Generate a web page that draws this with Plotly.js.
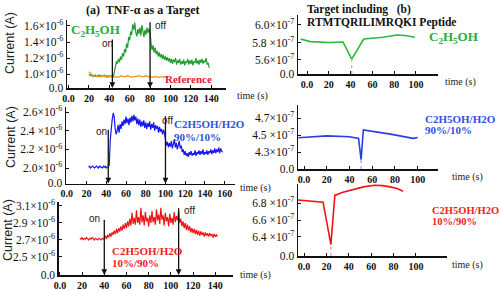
<!DOCTYPE html>
<html><head><meta charset="utf-8">
<script src="https://cdn.plot.ly/plotly-3.0.1.min.js"></script>
<style>html,body{margin:0;padding:0;background:#fff}#chart{width:500px;height:291px}</style>
</head><body><div id="chart"></div>
<script>
// ---------- DATA ----------
// (a) TNF-alpha as a target, current in units of 1e-6 A, sampled every 1 s
const a1EthanolStart = 20;
const a1Ethanol = [1.00,0.99,0.98,0.99,0.97,0.98,0.99,0.98,0.97,0.98,0.99,0.98,0.97,0.98,0.98,0.99,0.97,0.98,0.98,0.97,0.98,0.97,0.98,0.97,0.97,
  1.03,1.11,1.16,1.13,1.19,1.15,1.22,1.18,1.26,1.22,1.31,1.27,1.38,1.33,1.46,1.42,1.53,1.49,1.62,1.55,1.64,1.52,1.47,1.56,1.50,1.58,1.48,1.61,1.53,1.46,1.55,1.49,1.58,1.51,1.57,
  1.52,1.38,1.30,1.36,1.27,1.33,1.25,1.29,1.22,1.27,1.21,1.25,1.19,1.24,1.18,1.22,1.17,1.21,1.16,1.20,1.14,1.19,1.13,1.18,1.15,1.20,1.12,1.17,1.14,1.19,1.12,1.16,1.13,1.18,1.11,1.16,1.14,1.19,1.12,1.17,1.13,1.18,1.11,1.16,1.14,1.20,1.13,1.17,1.12,1.18,1.14,1.19,1.13,1.17,1.15,1.20,1.12,1.14,1.08];
// reference, sampled every 2 s
const a1ReferenceStart = 20;
const a1Reference = [1.03,1.00,0.98,0.97,0.98,0.97,0.97,0.98,0.97,0.96,0.97,0.97,0.96,0.97,0.96,0.97,0.98,0.97,0.97,0.98,0.97,0.96,0.97,0.97,0.98,0.98,0.97,0.97,0.98,0.97,0.97,0.96,0.97,0.97,0.96,0.97,0.97,0.96,0.97,0.96];
const a1Switch = [43, 80];   // on, off (s)

// C2H5OH/H2O 90%/10%, 1e-6 A, every 1 s
const a2Start = 22;
const a2Current = [2.01,2.02,2.00,2.01,2.02,2.01,2.00,2.01,2.02,2.01,2.00,2.02,2.01,2.01,2.00,2.02,2.01,2.02,2.00,2.01,2.02,
  2.03,2.30,2.46,2.52,2.59,2.55,2.42,2.36,2.40,2.46,2.38,2.47,2.42,2.50,2.45,2.52,2.47,2.55,2.48,2.53,2.46,2.54,2.49,2.56,2.50,2.57,2.51,2.55,2.47,2.53,2.46,2.52,2.44,2.50,2.45,2.51,2.43,2.49,2.42,2.48,2.44,2.50,2.41,2.47,2.43,2.49,2.40,2.46,2.42,2.45,2.38,2.44,2.39,2.42,2.36,2.41,2.37,
  2.30,2.24,2.28,2.22,2.27,2.23,2.29,2.21,2.26,2.31,2.22,2.27,2.20,2.25,2.29,2.21,2.24,2.17,2.20,2.14,2.18,2.13,2.16,2.12,2.17,2.14,2.18,2.13,2.16,2.14,2.19,2.13,2.17,2.15,2.19,2.14,2.18,2.15,2.20,2.14,2.17,2.15,2.19,2.14,2.18,2.16,2.20,2.15,2.19,2.16,2.21,2.16,2.20,2.17,2.22,2.16,2.21,2.18,2.17];
const a2Switch = [42, 100];

// C2H5OH/H2O 10%/90%, 1e-6 A, every 1 s
const a3Start = 18;
const a3Current = [2.72,2.71,2.73,2.70,2.72,2.71,2.73,2.72,2.70,2.72,2.71,2.73,2.71,2.70,2.72,2.71,2.70,2.72,2.71,2.70,2.72,2.71,
  2.72,2.75,2.71,2.76,2.73,2.78,2.74,2.79,2.76,2.81,2.77,2.83,2.78,2.84,2.80,2.86,2.81,2.88,2.83,2.90,2.84,2.92,2.86,2.95,2.87,3.02,2.89,2.96,2.88,3.05,2.90,2.97,2.88,3.08,2.91,2.99,2.87,3.03,2.92,2.96,2.86,2.99,2.90,3.04,2.91,2.97,2.88,3.06,2.93,3.00,2.89,3.08,2.94,2.99,2.87,3.02,2.92,2.97,2.86,3.01,2.90,2.96,2.88,3.03,2.91,2.98,2.93,3.04,
  2.90,2.95,2.86,2.92,2.84,2.90,2.82,2.88,2.81,2.86,2.79,2.84,2.78,2.83,2.77,2.82,2.76,2.81,2.75,2.80,2.76,2.79,2.74,2.79,2.75,2.78,2.74,2.78,2.75,2.77,2.73,2.77,2.74,2.76,2.74];
const a3Switch = [40, 107];

// (b) target including RTMTQRILIMRQKI peptide, current in 1e-7 A
const b1Time = [-6, 3, 20, 33, 41, 52, 70, 82, 90, 99];
const b1Current = [5.84, 5.81, 5.80, 5.806, 5.61, 5.84, 5.86, 5.885, 5.88, 5.86];
const b2Time = [-5, 20, 40, 48, 50.2, 52.2, 76, 96, 100];
const b2Current = [4.468, 4.49, 4.48, 4.46, 4.21, 4.56, 4.51, 4.46, 4.47];
const b3Time = [-5.5, 17, 24, 27.5, 34, 41, 47, 53, 63, 70, 77, 83, 88.5];
const b3Current = [6.835, 6.81, 6.31, 6.89, 6.925, 6.95, 6.975, 6.99, 7.01, 7.005, 6.99, 6.97, 6.94];

const xTicksA1 = [0,20,40,60,80,100,120,140];
const xTicksA2 = [0,20,40,60,80,100,120,140,160];
const xTicksB = [0,20,40,60,80,100];
const yTicksA1 = [1.0,1.2,1.4,1.6], yTextA1 = ['1.0×10<sup>-6</sup>','1.2×10<sup>-6</sup>','1.4×10<sup>-6</sup>','1.6×10<sup>-6</sup>'];
const yTicksA2 = [2.0,2.2,2.4,2.6], yTextA2 = ['2.0×10<sup>-6</sup>','2.2 ×10<sup>-6</sup>','2.4 ×10<sup>-6</sup>','2.6×10<sup>-6</sup>'];
const yTicksA3 = [2.5,2.7,2.9,3.1], yTextA3 = ['2.5 ×10<sup>-6</sup>','2.7×10<sup>-6</sup>','2.9 ×10<sup>-6</sup>','3.1×10<sup>-6</sup>'];
const yTicksB1 = [5.6,5.8,6.0], yTextB1 = ['5.6×10<sup>-7</sup>','5.8 ×10<sup>-7</sup>','6.0×10<sup>-7</sup>'];
const yTicksB2 = [4.3,4.5,4.7], yTextB2 = ['4.3×10<sup>-7</sup>','4.5 ×10<sup>-7</sup>','4.7×10<sup>-7</sup>'];
const yTicksB3 = [6.4,6.6,6.8], yTextB3 = ['6.4 ×10<sup>-7</sup>','6.6 ×10<sup>-7</sup>','6.8 ×10<sup>-7</sup>'];

// ---------- STYLE / LAYOUT ----------
const W = 500, H = 291;
const SERIF = 'Liberation Serif';
const SANS = 'Liberation Sans';
const GREEN = '#1f9e2e', ORANGE = '#f0961a', BLUE = '#1414f5', RED = '#f01414';
const px = v => v / W, py = v => 1 - v / H;

const yr = {
  a1: [0.8286, 1.6735], a2: [1.834, 2.654], a3: [2.288, 3.147],
  b1: [5.44, 6.114], b2: [4.1, 4.853], b3: [6.176, 7.03]
};

function xAxis(domain, range, ticks, anchor) {
  return {domain, range, anchor, tickmode:'array', tickvals: ticks,
    ticktext: ticks.map(t => '<b>' + (t === 0 ? '0.0' : String(t)) + '</b>'),
    showline:true, linecolor:'#111', linewidth:1.5, ticks:'inside', ticklen:3, tickcolor:'#111',
    showgrid:false, zeroline:false, fixedrange:true,
    tickfont:{family:SERIF, size:10, color:'#111'}};
}
function yAxis(domain, range, ticks, texts, anchor) {
  return {domain, range, anchor, tickmode:'array',
    tickvals: [range[0] + (range[1]-range[0])*0.002].concat(ticks), ticktext: ['0.0'].concat(texts),
    showline:true, linecolor:'#111', linewidth:1.5, ticks:'inside', ticklen:3, tickcolor:'#111',
    showgrid:false, zeroline:false, fixedrange:true,
    tickfont:{family:SERIF, size:11.5, color:'#111'}};
}

const traces = [
  {y:a1Ethanol, x0:a1EthanolStart, dx:1, xaxis:'x', yaxis:'y', mode:'lines', line:{color:GREEN, width:1.2}},
  {y:a1Reference, x0:a1ReferenceStart, dx:2, xaxis:'x', yaxis:'y', mode:'lines', line:{color:ORANGE, width:1.3}},
  {y:a2Current, x0:a2Start, dx:1, xaxis:'x2', yaxis:'y2', mode:'lines', line:{color:BLUE, width:1.2}},
  {y:a3Current, x0:a3Start, dx:1, xaxis:'x3', yaxis:'y3', mode:'lines', line:{color:RED, width:1.2}},
  {x:b1Time, y:b1Current, xaxis:'x4', yaxis:'y4', mode:'lines', line:{color:'#2db83d', width:1.6}},
  {x:b2Time, y:b2Current, xaxis:'x5', yaxis:'y5', mode:'lines', line:{color:'#2a3ee0', width:1.6}},
  {x:b3Time, y:b3Current, xaxis:'x6', yaxis:'y6', mode:'lines', line:{color:'#ee1515', width:1.6}}
];
// dotted drop lines at the minimum of each (b) curve
function dropLine(t, c, xa, ya, range, color) {
  let i = c.indexOf(Math.min(...c));
  return {x:[t[i], t[i]], y:[range[0], c[i]], xaxis:xa, yaxis:ya, mode:'lines', line:{color, width:1.3, dash:'dot'}};
}
traces.push(dropLine(b1Time, b1Current, 'x4', 'y4', yr.b1, '#90dc90'));
traces.push(dropLine(b2Time, b2Current, 'x5', 'y5', yr.b2, '#9aa6ff'));
traces.push(dropLine(b3Time, b3Current, 'x6', 'y6', yr.b3, '#ff9a9a'));

const ann = [];
function txt(text, x, y, opts) {
  ann.push(Object.assign({text, x:px(x), y:py(y), xref:'paper', yref:'paper', showarrow:false,
    xanchor:'center', yanchor:'middle', font:{family:SERIF, size:11, color:'#111'}}, opts || {}));
}
function arrow(xa, ya, t, top, range) {
  ann.push({text:'', x:t, y:range[0], ax:t, ay:top, xref:xa, yref:ya, axref:xa, ayref:ya,
    showarrow:true, arrowhead:2, arrowsize:0.9, arrowwidth:1.3, arrowcolor:'#111', standoff:0});
}
arrow('x','y', a1Switch[0], 1.45, yr.a1); arrow('x','y', a1Switch[1], 1.665, yr.a1);
arrow('x2','y2', a2Switch[0], 2.425, yr.a2); arrow('x2','y2', a2Switch[1], 2.57, yr.a2);
arrow('x3','y3', a3Switch[0], 2.955, yr.a3); arrow('x3','y3', a3Switch[1], 3.09, yr.a3);

const bold = (size, color) => ({family:SERIF, size, color, weight:'bold'});
const sans = {family:SANS, size:10, color:'#222'};
txt('(a)  TNF-α as a Target', 142, 10, {font:bold(12,'#111')});
txt('Target including   (b)', 305, 10, {xanchor:'left', font:bold(11.5,'#111')});
txt('RTMTQRILIMRQKI Peptide', 305, 23, {xanchor:'left', font:bold(11.5,'#111')});
// y titles
const ytFont = {family:SANS, size:12.5, color:'#222'};
txt('Current (A)', 10, 43, {textangle:-90, font:ytFont});
txt('Current (A)', 11, 137, {textangle:-90, font:ytFont});
txt('Current (A)', 8, 230, {textangle:-90, font:ytFont});
// time labels
[[235,96],[238,188],[238,275],[443,82],[450,177],[450,265]].forEach(p => txt('time (s)', p[0], p[1], {xanchor:'left', font:{family:SERIF, size:10, color:'#222'}}));
// a1
txt('C<sub>2</sub>H<sub>5</sub>OH', 95, 31, {font:bold(13,'#27ad3a')});
txt('on', 107, 43, {font:sans}); txt('off', 160, 25, {font:sans});
txt('Reference', 188, 79, {font:bold(11,'#e0222a')});
// a2
txt('on', 101.5, 131, {font:sans}); txt('off', 167, 120, {font:sans});
txt('C2H5OH/H2O', 172, 124, {xanchor:'left', font:bold(11,'#2f50e0')});
txt('90%/10%', 172, 137, {xanchor:'left', font:bold(11,'#2f50e0')});
// a3
txt('on', 94, 218, {font:sans}); txt('off', 189, 210, {font:sans});
txt('C2H5OH/H2O', 110, 251, {xanchor:'left', font:bold(11,'#ee2222')});
txt('10%/90%', 110, 263, {xanchor:'left', font:bold(11,'#ee2222')});
// b
txt('C<sub>2</sub>H<sub>5</sub>OH', 427, 38, {xanchor:'left', font:bold(13,'#27ad3a')});
txt('C2H5OH/H2O', 423, 119, {xanchor:'left', font:bold(11,'#2f50e0')});
txt('90%/10%', 423, 130, {xanchor:'left', font:bold(11,'#2f50e0')});
txt('C2H5OH/H2O', 430, 210, {xanchor:'left', font:bold(10.5,'#ee2222')});
txt('10%/90%', 430, 221, {xanchor:'left', font:bold(10.5,'#ee2222')});

const layout = {
  width:W, height:H, margin:{l:0,r:0,t:0,b:0}, showlegend:false,
  paper_bgcolor:'#fff', plot_bgcolor:'rgba(0,0,0,0)',
  xaxis:  xAxis([px(67), px(226)], [-1.5, 154.5], xTicksA1, 'y'),
  yaxis:  yAxis([py(88), py(20)], yr.a1, yTicksA1, yTextA1, 'x'),
  xaxis2: xAxis([px(66), px(235)], [-0.85, 170.5], xTicksA2, 'y2'),
  yaxis2: yAxis([py(183.5), py(107)], yr.a2, yTicksA2, yTextA2, 'x2'),
  xaxis3: xAxis([px(58.8), px(233)], [-1, 156], xTicksA1, 'y3'),
  yaxis3: yAxis([py(275), py(202)], yr.a3, yTicksA3, yTextA3, 'x3'),
  xaxis4: xAxis([px(298), px(438)], [-8.3, 120.2], xTicksB, 'y4'),
  yaxis4: yAxis([py(74), py(15)], yr.b1, yTicksB1, yTextB1, 'x4'),
  xaxis5: xAxis([px(298), px(438)], [-5.3, 117.9], xTicksB, 'y5'),
  yaxis5: yAxis([py(169), py(105)], yr.b2, yTicksB2, yTextB2, 'x5'),
  xaxis6: xAxis([px(298), px(447)], [-5.4, 127.7], xTicksB, 'y6'),
  yaxis6: yAxis([py(256), py(183.5)], yr.b3, yTicksB3, yTextB3, 'x6'),
  annotations: ann
};
Plotly.newPlot('chart', traces, layout, {staticPlot:true, displayModeBar:false});
</script></body></html>
